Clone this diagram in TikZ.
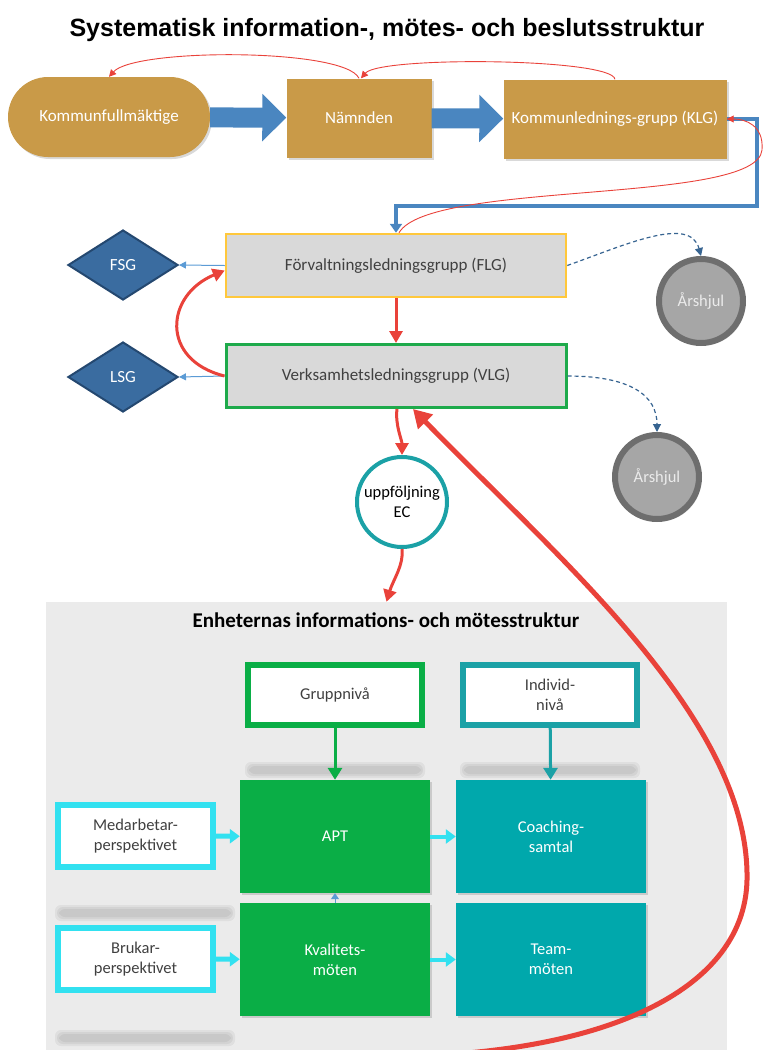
\documentclass[tikz,border=0pt]{standalone}
\usepackage{fontspec}
\setmainfont{Carlito}
\newfontfamily\titlefont{Liberation Sans}
\usetikzlibrary{arrows.meta,shapes.geometric,shadows}

\definecolor{gold}{RGB}{201,154,72}
\definecolor{blockblue}{RGB}{74,134,192}
\definecolor{thinblue}{RGB}{91,155,213}
\definecolor{dashblue}{RGB}{55,100,145}
\definecolor{redline}{RGB}{233,66,58}
\definecolor{boxgrey}{RGB}{217,217,217}
\definecolor{flgyellow}{RGB}{255,200,60}
\definecolor{vlggreen}{RGB}{30,170,75}
\definecolor{diamblue}{RGB}{58,108,160}
\definecolor{diamdark}{RGB}{36,72,112}
\definecolor{wheelgrey}{RGB}{166,166,166}
\definecolor{wheeldark}{RGB}{110,110,110}
\definecolor{ecteal}{RGB}{27,161,166}
\definecolor{panelgrey}{RGB}{235,235,235}
\definecolor{aptgreen}{RGB}{10,174,70}
\definecolor{tealbox}{RGB}{0,168,172}
\definecolor{perscyan}{RGB}{50,225,240}
\definecolor{textgrey}{RGB}{64,64,64}

\tikzset{
  goldbox/.style={fill=gold, text=white, minimum width=145pt, minimum height=79pt,
    font=\fontsize{17}{20}\selectfont, drop shadow={shadow xshift=2pt, shadow yshift=-2pt, opacity=0.3}},
  greybox/.style={fill=boxgrey, line width=2.5pt, text=textgrey, minimum width=340pt,
    minimum height=63pt, font=\fontsize{17}{20}\selectfont},
  diam/.style={diamond, fill=diamblue, draw=diamdark, line width=2pt, text=white,
    minimum width=110pt, minimum height=70pt, inner sep=0pt, font=\fontsize{17}{20}\selectfont},
  wheel/.style={circle, fill=wheelgrey, draw=wheeldark, line width=6pt, minimum size=84pt,
    text=white!92!black, font=\fontsize{16.5}{20}\selectfont, drop shadow={opacity=0.3}},
  levelbox/.style={fill=white, line width=6pt, minimum width=174pt, minimum height=60pt,
    align=center, text=textgrey, font=\fontsize{16.5}{20}\selectfont},
  meetbox/.style={minimum width=190pt, minimum height=113pt, align=center, text=white,
    font=\fontsize{16.5}{20}\selectfont, drop shadow={shadow xshift=2pt, shadow yshift=-2pt, opacity=0.3}},
  persbox/.style={fill=white, draw=perscyan, line width=6pt, minimum width=155pt,
    minimum height=62pt, align=center, text=textgrey, font=\fontsize{16.5}{20}\selectfont},
  blockarrow/.style={draw=blockblue, line width=20pt, -{Triangle[width=46pt,length=24pt]}},
  redthin/.style={draw=redline, line width=0.9pt, -{Triangle[width=7pt,length=7pt]}},
  redthick/.style={draw=redline, line width=3pt, -{Triangle[width=13pt,length=12pt]}},
  bluethin/.style={draw=thinblue, line width=1pt, -{Triangle[width=7pt,length=7pt]}},
  dasharrow/.style={draw=dashblue, line width=1.2pt, dash pattern=on 4pt off 3pt,
    -{Triangle[width=8pt,length=8pt]}},
  cyanarrow/.style={draw=perscyan, line width=5pt, -{Triangle[width=14pt,length=10pt]}},
}

\begin{document}
\begin{tikzpicture}[x=1pt,y=-1pt]
\useasboundingbox (0,0) rectangle (763,1050);

\node[font=\titlefont\bfseries\fontsize{25}{29}\selectfont] (title) at (387,30)
  {Systematisk information-, mötes- och beslutsstruktur};

\node[goldbox, rounded corners=40pt, minimum width=202pt, minimum height=80pt] (kf) at (109,117) {Kommunfullmäktige};
\node[goldbox] (namnden) at (359,118) {Nämnden};
\node[goldbox, minimum width=223pt] (klg) at (615,119) {Kommunlednings-grupp (KLG)};

\draw[blockarrow] (kf) -- (namnden);
\draw[blockarrow] (namnden) -- (klg);
\draw[redthin] (namnden.north) .. controls (345,48) and (135,48) .. (kf.north);
\draw[redthin] (klg.north) .. controls (612,58) and (380,56) .. ([xshift=2pt]namnden.north);

\node[greybox, draw=flgyellow] (flg) at (396,265.5) {Förvaltningsledningsgrupp (FLG)};
\node[greybox, draw=vlggreen, line width=3pt] (vlg) at (396,376) {Verksamhetsledningsgrupp (VLG)};
\node[diam] (fsg) at (123,265) {FSG};
\node[diam] (lsg) at (123,377) {LSG};
\node[wheel] (arsA) at (701,301) {Årshjul};
\node[wheel] (arsB) at (657,477) {Årshjul};
\node[circle, draw=ecteal, fill=white, line width=4pt, minimum size=90pt, align=center,
  inner sep=0pt, font=\fontsize{16.5}{20}\selectfont] (ec) at (402,502) {uppföljning\\EC};

\draw[blockblue, line width=3.5pt, -{Triangle[width=12pt,length=9pt]}]
  (klg.east) -| (757,206) -| (flg.north);
\draw[redthin] ([xshift=3pt]flg.north) .. controls (430,180) and (757,205) .. (762,150)
  .. controls (764,125) and (745,119) .. (klg.east);

\draw[bluethin] (flg.west) -- (fsg.east);
\draw[bluethin] (vlg.west) -- (lsg.east);
\draw[redthick] (flg) -- (vlg);
\draw[redthick] (vlg.west) .. controls (160,360) and (165,295) .. ([yshift=-5pt]flg.west);
\draw[dasharrow] (flg.east) .. controls (625,245) and (690,215) .. (arsA.north);
\draw[dasharrow] (vlg.east) .. controls (630,376) and (657,395) .. (arsB.north);
\draw[redthick] ([xshift=1pt]vlg.south) .. controls (395,425) and (402,440) .. (ec.north);

\node[fill=panelgrey, minimum width=681pt, minimum height=448pt, inner sep=0pt] (panel) at (386.5,826) {};
\node[font=\bfseries\fontsize{21}{25}\selectfont] (header) at (386,620) {Enheternas informations- och mötesstruktur};
\draw[redthick] (ec.south) .. controls (404,565) and (393,580) .. (panel.north);

\foreach \bx/\by in {245/762, 460/762, 55/905, 55/1030}
  \foreach \i in {0,2,4}
    \fill[black, opacity=0.05, rounded corners=6pt] (\bx+\i, \by+\i) rectangle (\bx+180-\i, \by+16-\i);

\node[levelbox, draw=aptgreen] (grupp) at (335,695) {Gruppnivå};
\node[levelbox, draw=ecteal] (individ) at (550,695) {Individ-\\nivå};
\node[meetbox, fill=aptgreen] (apt) at (335,836.5) {APT};
\node[meetbox, fill=tealbox] (coach) at (551,836.5) {Coaching-\\samtal};
\node[meetbox, fill=aptgreen] (kval) at (335,959.5) {Kvalitets-\\möten};
\node[meetbox, fill=tealbox] (team) at (551,959.5) {Team-\\möten};
\node[persbox] (medarb) at (135.5,836) {Medarbetar-\\perspektivet};
\node[persbox] (brukar) at (135.5,959) {Brukar-\\perspektivet};

\draw[draw=aptgreen, line width=3pt, -{Triangle[width=14pt,length=12pt]}] (grupp) -- (apt);
\draw[draw=ecteal, line width=3pt, -{Triangle[width=14pt,length=12pt]}] (individ) -- (coach);
\draw[cyanarrow] (medarb) -- (apt);
\draw[cyanarrow] (brukar) -- (kval);
\draw[cyanarrow, line width=4pt] (apt) -- (coach);
\draw[cyanarrow, line width=4pt] (kval) -- (team);
\draw[bluethin, -{Triangle[width=8pt,length=6pt]}] (kval) -- (apt);

\coordinate (loopend) at (455,1054);
\draw[draw=redline, line width=5pt, -{Triangle[width=20pt,length=18pt]}]
  (loopend) .. controls (640,1040) and (745,975) .. (747,880)
  .. controls (750,720) and (560,560) .. ([xshift=17pt]vlg.south);

\end{tikzpicture}
\end{document}
